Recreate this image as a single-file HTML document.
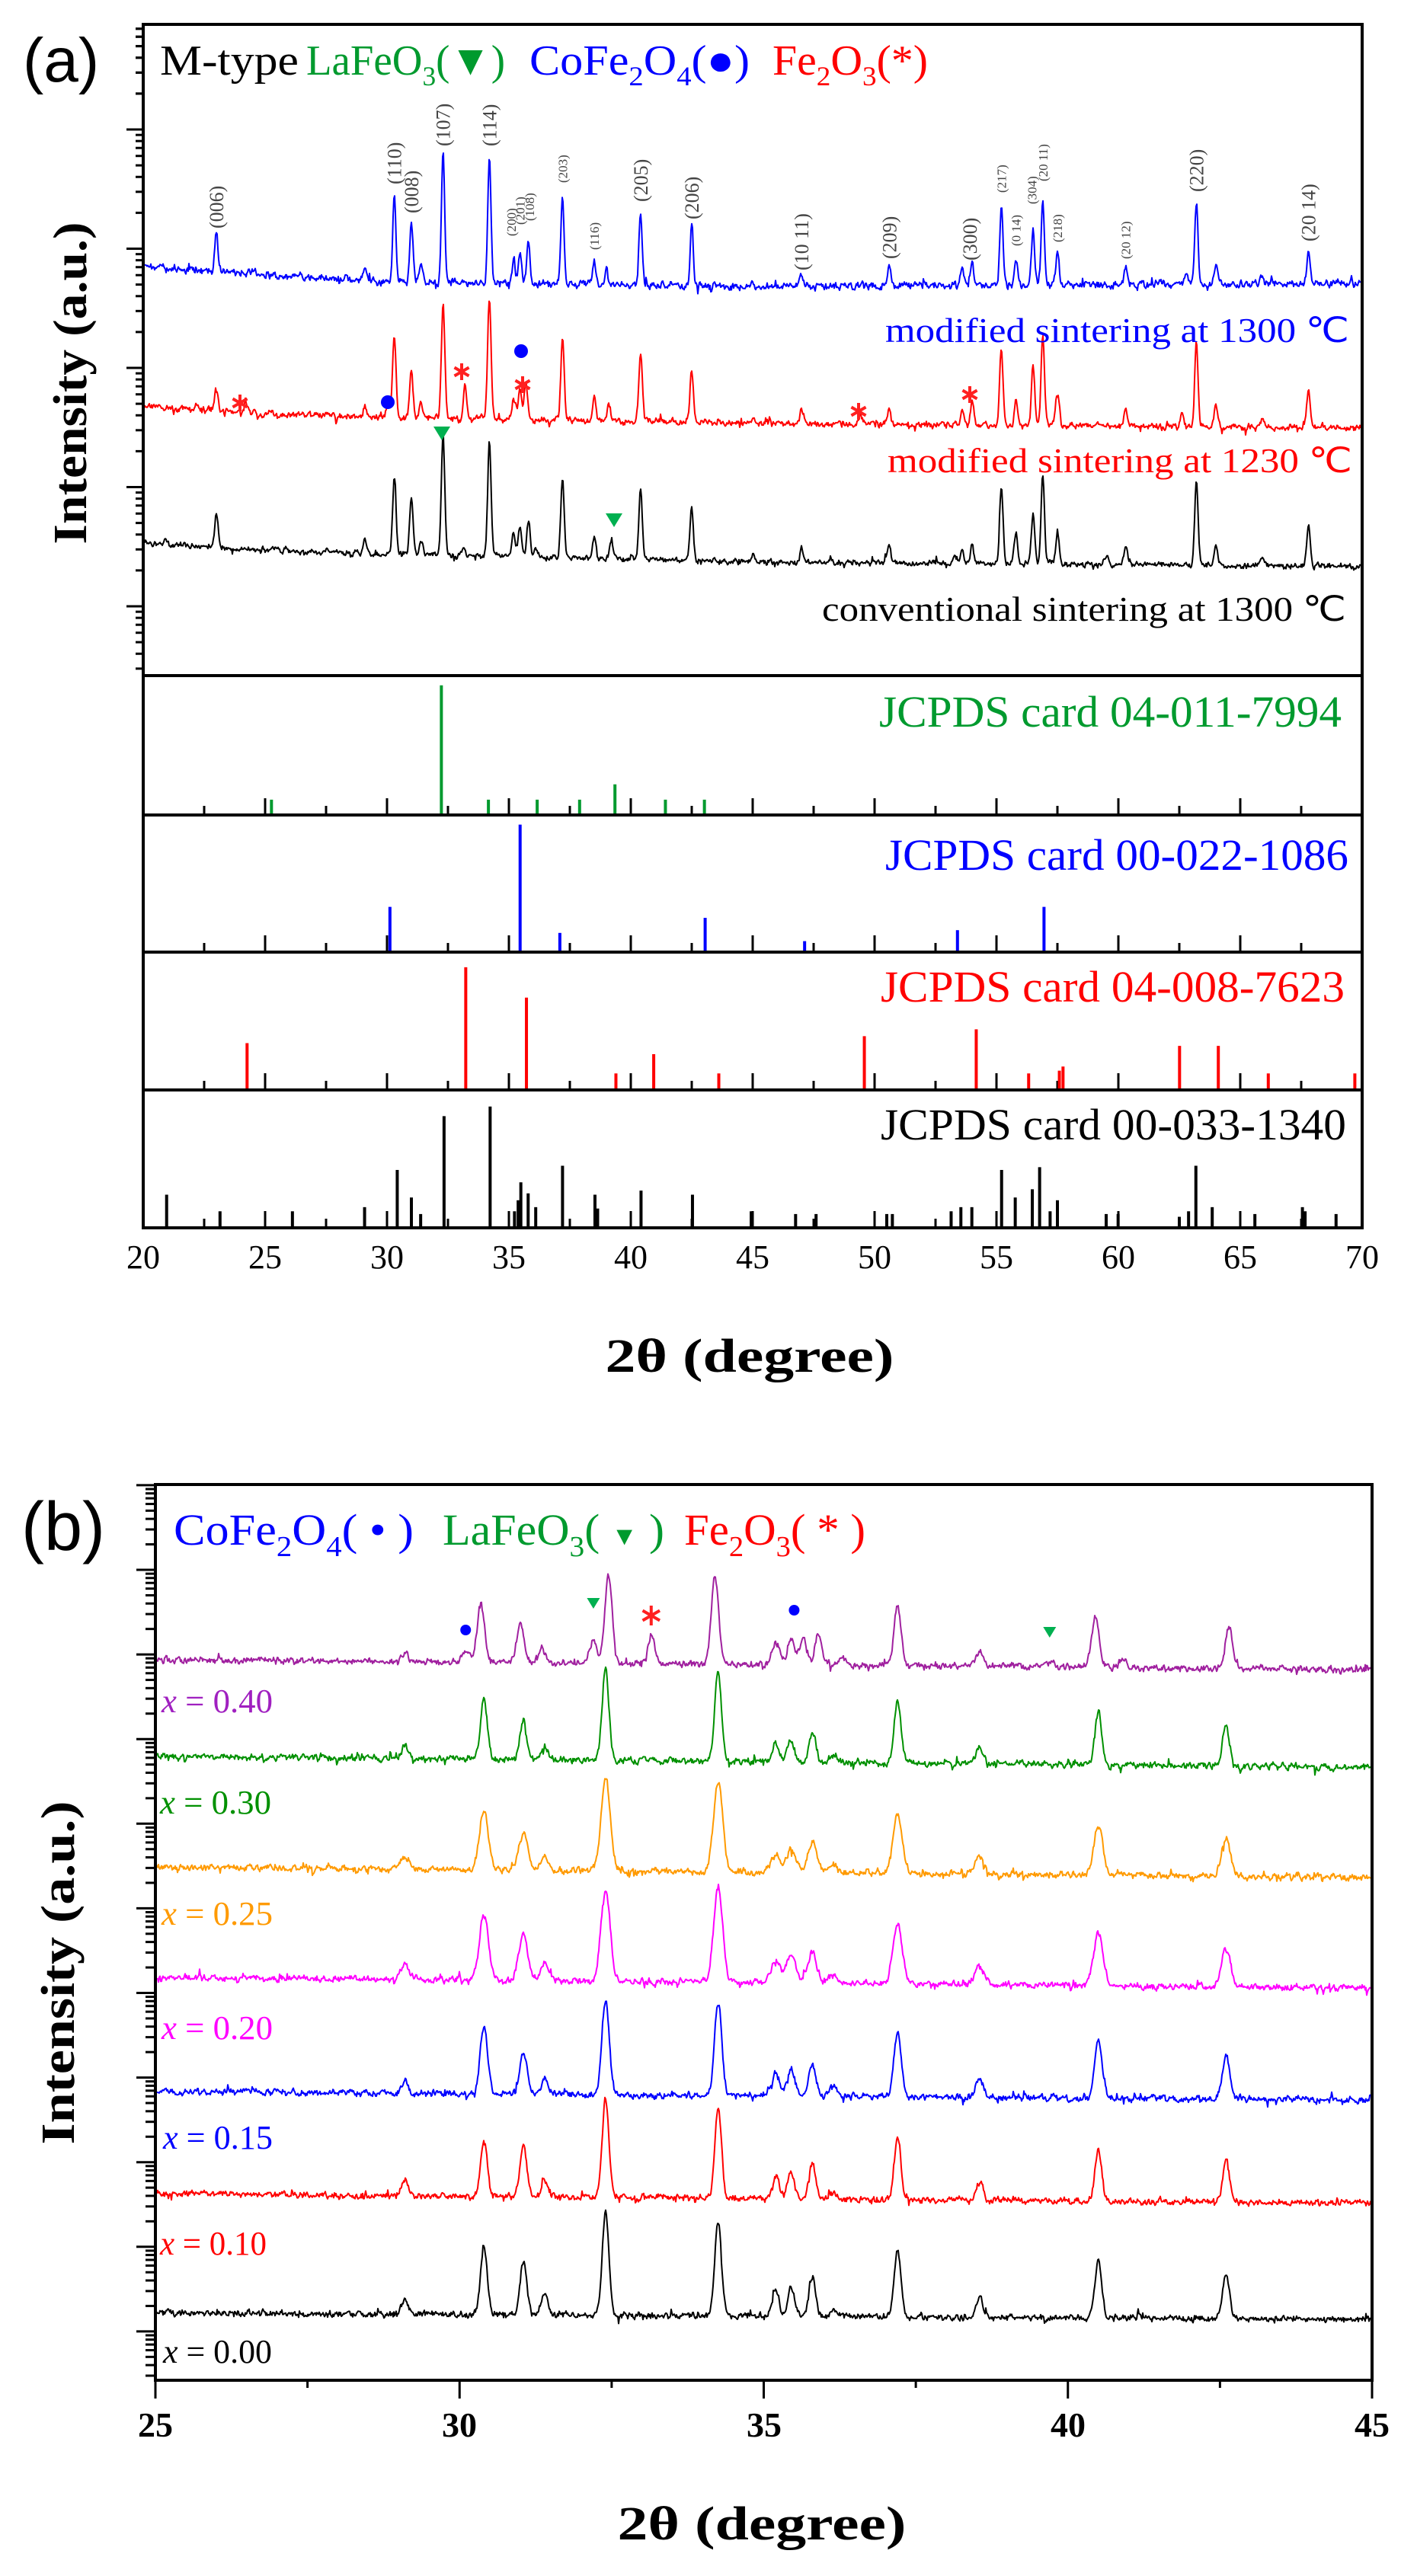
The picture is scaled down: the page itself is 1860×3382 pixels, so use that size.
<!DOCTYPE html>
<html><head><meta charset="utf-8"><style>
html,body{margin:0;padding:0;background:#fff;}
svg{display:block;}
.s{font-family:"Liberation Serif",serif;}
.a{font-family:"Liberation Sans",sans-serif;}
</style></head><body>
<svg id="c" width="1860" height="3382" viewBox="0 0 1860 3382" xmlns="http://www.w3.org/2000/svg">
<rect width="1860" height="3382" fill="#fff"/>
<g id="dyn"></g>
<!-- Panel (a) texts -->
<text class="a" x="30" y="107" font-size="82">(a)</text>
<text class="s" x="210" y="98" font-size="56" textLength="182" lengthAdjust="spacingAndGlyphs">M-type</text>
<text class="s" x="402" y="98" font-size="56" fill="#009a2e" textLength="261" lengthAdjust="spacingAndGlyphs">LaFeO<tspan font-size="36" dy="14">3</tspan><tspan dy="-14">(▼)</tspan></text>
<text class="s" x="695" y="98" font-size="56" fill="#0000ff" textLength="289" lengthAdjust="spacingAndGlyphs">CoFe<tspan font-size="36" dy="14">2</tspan><tspan dy="-14">O</tspan><tspan font-size="36" dy="14">4</tspan><tspan dy="-14">(●)</tspan></text>
<text class="s" x="1014" y="98" font-size="56" fill="#ff0000" textLength="204" lengthAdjust="spacingAndGlyphs">Fe<tspan font-size="36" dy="14">2</tspan><tspan dy="-14">O</tspan><tspan font-size="36" dy="14">3</tspan><tspan dy="-14">(*)</tspan></text>
<text class="s" x="1162" y="449" font-size="46" fill="#0000ff" textLength="609" lengthAdjust="spacingAndGlyphs">modified sintering at 1300 ℃</text>
<text class="s" x="1165" y="620" font-size="46" fill="#ff0000" textLength="610" lengthAdjust="spacingAndGlyphs">modified sintering at 1230 ℃</text>
<text class="s" x="1079" y="815" font-size="46" fill="#000" textLength="688" lengthAdjust="spacingAndGlyphs">conventional sintering at 1300 ℃</text>
<text class="s" x="1154" y="954" font-size="58" fill="#009a2e" textLength="607" lengthAdjust="spacingAndGlyphs">JCPDS card 04-011-7994</text>
<text class="s" x="1162" y="1142" font-size="58" fill="#0000ff" textLength="608" lengthAdjust="spacingAndGlyphs">JCPDS card 00-022-1086</text>
<text class="s" x="1156" y="1315" font-size="58" fill="#ff0000" textLength="609" lengthAdjust="spacingAndGlyphs">JCPDS card 04-008-7623</text>
<text class="s" x="1156" y="1496" font-size="58" fill="#000" textLength="611" lengthAdjust="spacingAndGlyphs">JCPDS card 00-033-1340</text>
<text class="s" font-size="62" font-weight="bold" text-anchor="middle" transform="translate(113,503) rotate(-90)" textLength="423" lengthAdjust="spacingAndGlyphs">Intensity (a.u.)</text>
<text class="s" x="984" y="1801" font-size="62" font-weight="bold" text-anchor="middle" textLength="379" lengthAdjust="spacingAndGlyphs">2θ (degree)</text>
<g id="alab" class="s" font-size="44" text-anchor="middle"></g>
<g id="plab" class="s" fill="#444"></g>
<!-- Panel (b) texts -->
<text class="a" x="28" y="2035" font-size="90">(b)</text>
<text class="s" x="228" y="2028" font-size="58" fill="#0000ff" textLength="315" lengthAdjust="spacingAndGlyphs">CoFe<tspan font-size="38" dy="15">2</tspan><tspan dy="-15">O</tspan><tspan font-size="38" dy="15">4</tspan><tspan dy="-15">( • )</tspan></text>
<text class="s" x="581" y="2028" font-size="58" fill="#009a2e" textLength="291" lengthAdjust="spacingAndGlyphs">LaFeO<tspan font-size="38" dy="15">3</tspan><tspan dy="-15">( </tspan><tspan font-size="34">▼</tspan><tspan> )</tspan></text>
<text class="s" x="898" y="2028" font-size="58" fill="#ff0000" textLength="238" lengthAdjust="spacingAndGlyphs">Fe<tspan font-size="38" dy="15">2</tspan><tspan dy="-15">O</tspan><tspan font-size="38" dy="15">3</tspan><tspan dy="-15">( * )</tspan></text>
<g class="s" font-size="44">
<text x="212" y="2248" fill="#a020c0" textLength="146" lengthAdjust="spacingAndGlyphs"><tspan font-style="italic">x</tspan> = 0.40</text>
<text x="210" y="2381" fill="#009000" textLength="146" lengthAdjust="spacingAndGlyphs"><tspan font-style="italic">x</tspan> = 0.30</text>
<text x="212" y="2527" fill="#ff9a00" textLength="146" lengthAdjust="spacingAndGlyphs"><tspan font-style="italic">x</tspan> = 0.25</text>
<text x="212" y="2677" fill="#ff00ff" textLength="146" lengthAdjust="spacingAndGlyphs"><tspan font-style="italic">x</tspan> = 0.20</text>
<text x="214" y="2821" fill="#0000ff" textLength="144" lengthAdjust="spacingAndGlyphs"><tspan font-style="italic">x</tspan> = 0.15</text>
<text x="210" y="2960" fill="#ff0000" textLength="140" lengthAdjust="spacingAndGlyphs"><tspan font-style="italic">x</tspan> = 0.10</text>
<text x="214" y="3102" fill="#000" textLength="143" lengthAdjust="spacingAndGlyphs"><tspan font-style="italic">x</tspan> = 0.00</text>
</g>
<text class="s" font-size="62" font-weight="bold" text-anchor="middle" transform="translate(97,2590) rotate(-90)" textLength="451" lengthAdjust="spacingAndGlyphs">Intensity (a.u.)</text>
<text class="s" x="1000" y="3334" font-size="62" font-weight="bold" text-anchor="middle" textLength="379" lengthAdjust="spacingAndGlyphs">2θ (degree)</text>
<g class="s" font-size="46" font-weight="bold" text-anchor="middle">
<text x="204" y="3199">25</text><text x="603" y="3199">30</text><text x="1003" y="3199">35</text><text x="1402" y="3199">40</text><text x="1801" y="3199">45</text>
</g>
</svg>
<script>
(function(){
var NS="http://www.w3.org/2000/svg";
var dyn=document.getElementById("dyn");
function el(tag,attrs,parent){var e=document.createElementNS(NS,tag);for(var k in attrs)e.setAttribute(k,attrs[k]);(parent||dyn).appendChild(e);return e;}
function rng(seed){var s=seed>>>0;return function(){s=(Math.imul(s,1664525)+1013904223)>>>0;return s/4294967296;};}
function interp(arr,t){if(t<=arr[0][0])return arr[0][1];for(var i=1;i<arr.length;i++){if(t<=arr[i][0]){var a=arr[i-1],b=arr[i];return a[1]+(b[1]-a[1])*(t-a[0])/(b[0]-a[0]);}}return arr[arr.length-1][1];}
function trace(o){
  var r=rng(o.seed),d="",prev=0;
  for(var px=o.x0;px<=o.x1;px+=1){
    var t=o.t0+(px-o.x0)/o.ppd;
    var y=interp(o.base,t);
    for(var i=0;i<o.peaks.length;i++){var p=o.peaks[i];var s=p[2]||o.sig;var dt=t-p[0];if(Math.abs(dt)<8*s)y-=p[1]*Math.exp(-dt*dt/(2*s*s));}
    var n=(r()+r()-1)*o.noise; if(r()<0.06)n+=(r()-0.5)*o.noise*3;
    n=0.6*n+0.4*prev; prev=n;
    y+=n;
    d+=(d?"L":"M")+px.toFixed(1)+" "+y.toFixed(1);
  }
  el("path",{d:d,fill:"none",stroke:o.color,"stroke-width":o.w||2,"stroke-linejoin":"round"});
}
function star(cx,cy,r,col,w){var d="";for(var k=0;k<3;k++){var a=Math.PI/2+k*Math.PI/3;var dx=r*Math.cos(a),dy=r*Math.sin(a);d+="M"+(cx-dx)+" "+(cy-dy)+"L"+(cx+dx)+" "+(cy+dy);}el("path",{d:d,stroke:col,"stroke-width":w||4,fill:"none"});}
function tri(cx,cy,w,h,col){el("path",{d:"M"+(cx-w/2)+" "+(cy-h/2)+"L"+(cx+w/2)+" "+(cy-h/2)+"L"+cx+" "+(cy+h/2)+"Z",fill:col});}
function dot(cx,cy,r,col){el("circle",{cx:cx,cy:cy,r:r,fill:col});}

/* ===== Panel (a) ===== */
var AX0=188,AX1=1788,APD=32;
function ax(t){return AX0+(t-20)*APD;}
var bluePk=[[23.0,55],[29.1,15],[30.3,112],[31.0,78],[31.4,25],[32.3,172],[34.2,166],[35.2,32],[35.45,40],[35.8,58],[37.2,115],[38.5,33],[39.0,15],[40.4,96],[42.5,80],[45,6],[47.0,14],[50.6,27],[53.6,20],[54.0,30],[55.2,103],[55.8,34],[56.5,72],[56.9,112],[57.5,45],[60.3,25],[62.8,10],[63.2,108],[64.0,22],[65.9,8],[67.8,45]];
var redPk=[[23.0,32],[24.2,12],[29.1,15],[30.05,18],[30.3,107],[31.0,60],[31.4,22],[32.3,150],[33.2,45],[34.2,158],[35.2,30],[35.45,42],[35.7,48],[37.2,110],[38.5,32],[39.1,22],[40.4,90],[42.5,68],[45,8],[47.0,18],[49.4,12],[50.6,22],[53.6,18],[54.0,30],[55.2,100],[55.8,35],[56.5,80],[56.9,118],[57.5,45],[60.3,22],[62.6,18],[63.2,110],[64.0,30],[65.9,12],[67.8,50]];
var blackPk=[[20.9,6],[23.0,45],[29.1,15],[30.3,100],[31.0,72],[31.4,20],[32.3,158],[33.1,8],[34.2,150],[35.2,30],[35.45,38],[35.8,48],[36.1,12],[37.2,105],[38.5,30],[39.2,25],[40.4,90],[42.5,68],[45,8],[47.0,20],[50.6,22],[53.3,10],[53.6,18],[54.0,24],[55.2,100],[55.8,38],[56.5,65],[56.9,118],[57.5,40],[59.5,8],[60.3,22],[63.2,112],[64.0,25],[65.9,12],[67.8,52]];
trace({x0:AX0+2,x1:AX1-2,t0:20+2/APD,ppd:APD,seed:11,base:[[20,350],[25,360],[30,370],[45,376],[70,372]],peaks:bluePk,sig:0.065,noise:9,color:"#0000ff",w:2});
trace({x0:AX0+2,x1:AX1-2,t0:20+2/APD,ppd:APD,seed:23,base:[[20,534],[25,543],[30,548],[45,556],[70,562]],peaks:redPk,sig:0.07,noise:8,color:"#ff0000",w:2});
trace({x0:AX0+2,x1:AX1-2,t0:20+2/APD,ppd:APD,seed:37,base:[[20,713],[25,722],[30,727],[45,738],[70,743]],peaks:blackPk,sig:0.07,noise:7,color:"#000",w:2});
[[315,529],[606,488],[686,505],[1127,540],[1273,518]].forEach(function(p){star(p[0],p[1],11,"#ff2020",4);});
dot(509,528,9,"#0000ff");dot(684,461,9,"#0000ff");
tri(580,569,22,18,"#00b050");tri(806,683,22,18,"#00b050");

var subs=[[887,1070,"#009a2e",[[25.26,.11],[32.23,.93],[34.16,.11],[36.16,.11],[37.9,.11],[39.35,.22],[41.42,.11],[43.02,.11]]],
[1070,1250,"#0000ff",[[30.12,.33],[35.46,.93],[37.09,.14],[43.05,.25],[47.13,.08],[53.4,.16],[56.95,.33]]],
[1250,1431,"#ff0000",[[24.26,.34],[33.23,.89],[35.72,.67],[39.39,.12],[40.94,.26],[43.61,.12],[49.58,.39],[54.17,.44],[56.32,.12],[57.58,.14],[57.73,.17],[62.51,.32],[64.1,.32],[66.15,.12],[69.7,.12]]],
[1431,1612,"#000",[[20.96,.24],[23.15,.12],[26.12,.12],[29.08,.15],[30.42,.42],[31.0,.22],[31.38,.10],[32.34,.81],[34.23,.88],[35.23,.12],[35.38,.20],[35.49,.33],[35.79,.25],[36.1,.15],[37.2,.45],[38.53,.24],[38.64,.14],[40.42,.27],[42.53,.24],[44.94,.12],[46.76,.10],[47.6,.10],[50.5,.10],[50.73,.10],[53.14,.12],[53.54,.15],[53.99,.15],[55.21,.42],[55.77,.22],[56.47,.28],[56.77,.44],[57.2,.12],[57.5,.20],[59.5,.10],[59.99,.10],[62.5,.08],[62.88,.12],[63.18,.45],[63.85,.15],[65.6,.10],[67.55,.15],[67.66,.12],[68.93,.10]]]];
subs.forEach(function(s){
  var top=s[0],bot=s[1],h=bot-top;
  for(var t=22.5;t<70;t+=2.5){var maj=(Math.abs(t/5-Math.round(t/5))<1e-6);el("line",{x1:ax(t),x2:ax(t),y1:bot,y2:bot-(maj?22:12),stroke:"#000","stroke-width":3});}
  s[3].forEach(function(p){el("line",{x1:ax(p[0]),x2:ax(p[0]),y1:bot,y2:bot-p[1]*h,stroke:s[2],"stroke-width":4});});
});
el("rect",{x:AX0,y:32,width:AX1-AX0,height:1612-32,fill:"none",stroke:"#000","stroke-width":4});
[887,1070,1250,1431].forEach(function(y){el("line",{x1:AX0,x2:AX1,y1:y,y2:y,stroke:"#000","stroke-width":4});});
(function(){var base=[170,326.5,483,639.5,796,952.5];for(var i=0;i<base.length;i++){var b=base[i];if(b<885)el("line",{x1:AX0,x2:AX0-22,y1:b,y2:b,stroke:"#000","stroke-width":3});for(var k=2;k<10;k++){var y=b-Math.log10(k)*156.5;if(y>34&&y<885)el("line",{x1:AX0,x2:AX0-10,y1:y,y2:y,stroke:"#000","stroke-width":3});}}
 for(var k=2;k<10;k++){var y=170-Math.log10(k)*156.5;if(y>34)el("line",{x1:AX0,x2:AX0-10,y1:y,y2:y,stroke:"#000","stroke-width":3});}})();
var al=document.getElementById("alab");
for(var t=20;t<=70;t+=5){var tx=el("text",{x:ax(t),y:1665},al);tx.textContent=t;}
var pl=document.getElementById("plab");
var labs=[["(006)",23.0,300,26],["(110)",30.3,242,26],["(008)",31.0,280,26],["(107)",32.3,192,26],["(114)",34.2,192,26],["(205)",40.4,265,26],["(206)",42.5,288,26],["(10 11)",47.0,355,26],["(209)",50.6,340,26],["(300)",53.9,342,26],["(220)",63.2,252,26],["(20 14)",67.8,317,26],
["(200)",35.1,310,17],["(201)",35.45,295,17],["(108)",35.85,290,17],["(203)",37.2,240,17],["(116)",38.5,328,17],["(217)",55.2,253,17],["(0 14)",55.8,323,17],["(304)",56.45,268,17],["(20 11)",56.9,238,17],["(218)",57.5,318,17],["(20 12)",60.3,340,17]];
labs.forEach(function(l){var x=ax(l[1])+l[3]*0.35;var tx=el("text",{transform:"translate("+x+","+l[2]+") rotate(-90)","font-size":l[3]},pl);tx.textContent=l[0];});

/* ===== Panel (b) ===== */
var BX0=204,BX1=1801,BPD=79.85,BT=1949,BB=3125;
function bx(t){return BX0+(t-25)*BPD;}
var pos=[29.1,30.4,31.05,31.4,32.4,34.25,35.2,35.45,35.8,36.15,37.2,38.55,40.5,42.6];
function mk(h){return pos.map(function(p,i){return [p,h[i]];});}
var sets=[
 {c:"#000",b:[[25,3037],[45,3045]],p:mk([22,87,71,27,133,126,33,38,52,12,87,27,76,60]),s:0.055,seed:101},
 {c:"#ff0000",b:[[25,2880],[45,2893]],p:mk([20,72,67,20,128,118,30,35,45,10,80,25,65,55]),s:0.055,seed:202},
 {c:"#0000ff",b:[[25,2746],[45,2757]],p:mk([15,88,55,20,123,123,30,35,40,12,84,25,75,55]),s:0.06,seed:303},
 {c:"#ff00ff",b:[[25,2596],[45,2610]],p:mk([20,86,59,22,123,121,30,35,40,10,80,25,70,50]),s:0.075,seed:404},
 {c:"#ff9a00",b:[[25,2451],[45,2465]],p:mk([15,77,48,18,123,118,25,30,40,10,77,20,66,50]),s:0.075,seed:505},
 {c:"#009000",b:[[25,2306],[45,2320]],p:mk([18,80,54,18,123,118,25,28,40,10,83,22,70,54]),s:0.055,seed:606},
 {c:"#a0209f",b:[[25,2179],[45,2192]],p:[[29.1,13],[30.1,15],[30.35,77],[31.0,51],[31.35,20],[32.2,32],[32.45,115],[33.15,37],[34.2,116],[35.2,30],[35.45,35],[35.65,35],[35.9,38],[36.3,8],[37.2,77],[38.55,21],[39.7,10],[40.45,66],[40.9,12],[42.65,54]],s:0.06,seed:707}
];
sets.forEach(function(o){trace({x0:BX0+2,x1:BX1-2,t0:25+2/BPD,ppd:BPD,seed:o.seed,base:o.b,peaks:o.p,sig:o.s,noise:8,color:o.c,w:2});});
dot(bx(30.1),2140,7,"#0000ff");dot(bx(35.5),2114,7,"#0000ff");
tri(bx(32.2),2105,17,14,"#00b050");tri(bx(39.7),2143,17,14,"#00b050");
star(bx(33.15),2121,13,"#ff2020",4);
el("rect",{x:BX0,y:BT,width:BX1-BX0,height:BB-BT,fill:"none",stroke:"#000","stroke-width":4});
for(var t=25;t<=45.01;t+=2.5){var maj=(Math.abs(t/5-Math.round(t/5))<1e-6);el("line",{x1:bx(t),x2:bx(t),y1:BB,y2:BB+(maj?24:10),stroke:"#000","stroke-width":3});}
(function(){var D=111.1;for(var i=-1;i<11;i++){var b=2061+i*D;if(b>BT&&b<BB)el("line",{x1:BX0,x2:BX0-25,y1:b,y2:b,stroke:"#000","stroke-width":3});for(var k=2;k<10;k++){var y=b+D-Math.log10(k)*D;if(y>BT+2&&y<BB-2)el("line",{x1:BX0,x2:BX0-13,y1:y,y2:y,stroke:"#000","stroke-width":3});}}})();
})();
</script>
</body></html>
